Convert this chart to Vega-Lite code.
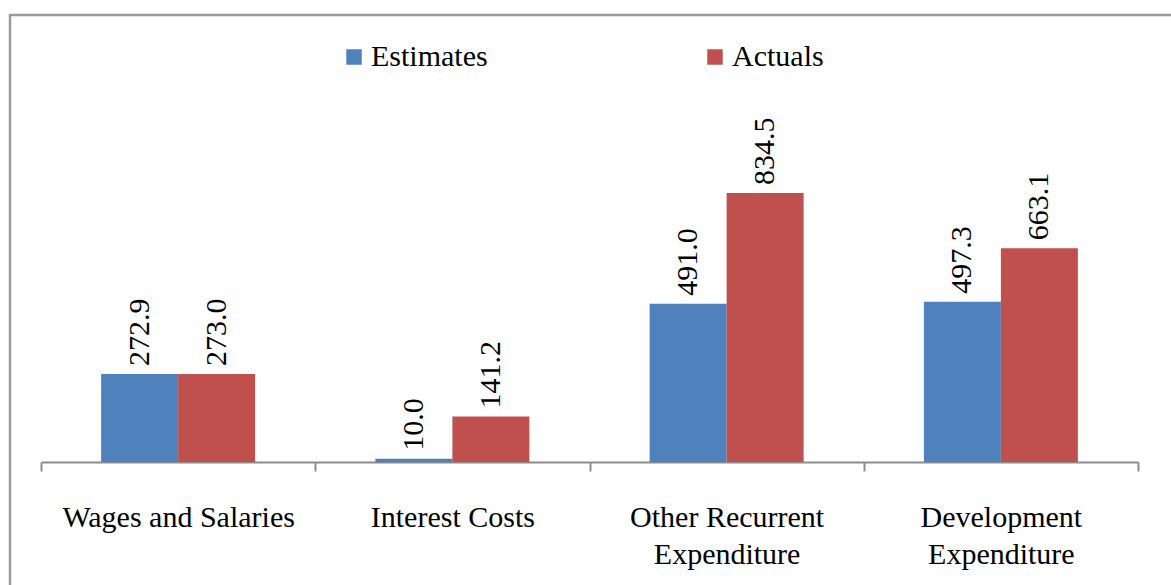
{
  "$schema": "https://vega.github.io/schema/vega-lite/v6.json",
  "autosize": {"type": "none"},
  "padding": {"left": 10, "top": 15, "right": 0, "bottom": 0},
  "width": 1163,
  "height": 572,
  "background": "white",
  "config": {
    "view": {"stroke": "#9a9a9a", "strokeWidth": 2.5},
    "font": "'Liberation Serif', 'Times New Roman', serif",
    "text": {"font": "'Liberation Serif', 'Times New Roman', serif"},
    "axis": {"labelFont": "'Liberation Serif', 'Times New Roman', serif"},
    "legend": {"labelFont": "'Liberation Serif', 'Times New Roman', serif"}
  },
  "data": {
    "values": [
      {"category": "Wages and Salaries", "series": "Estimates", "value": 272.9},
      {"category": "Wages and Salaries", "series": "Actuals", "value": 273.0},
      {"category": "Interest Costs", "series": "Estimates", "value": 10.0},
      {"category": "Interest Costs", "series": "Actuals", "value": 141.2},
      {"category": "Other Recurrent Expenditure", "series": "Estimates", "value": 491.0},
      {"category": "Other Recurrent Expenditure", "series": "Actuals", "value": 834.5},
      {"category": "Development Expenditure", "series": "Estimates", "value": 497.3},
      {"category": "Development Expenditure", "series": "Actuals", "value": 663.1}
    ]
  },
  "encoding": {
    "x": {
      "field": "category",
      "type": "nominal",
      "sort": ["Wages and Salaries", "Interest Costs", "Other Recurrent Expenditure", "Development Expenditure"],
      "scale": {"range": [31, 1128], "paddingInner": 0, "paddingOuter": 0},
      "axis": {
        "title": null,
        "orient": "bottom",
        "offset": -125,
        "domainColor": "#8c8c8c",
        "domainWidth": 2,
        "tickColor": "#8c8c8c",
        "tickWidth": 2,
        "tickSize": 9,
        "tickBand": "extent",
        "labelAngle": 0,
        "labelFontSize": 30,
        "labelColor": "#000000",
        "labelBaseline": "top",
        "labelPadding": 31,
        "labelLineHeight": 37,
        "labelLimit": 0,
        "grid": false,
        "labelExpr": "datum.label == 'Other Recurrent Expenditure' ? ['Other Recurrent', 'Expenditure'] : datum.label == 'Development Expenditure' ? ['Development', 'Expenditure'] : datum.label"
      }
    },
    "xOffset": {
      "field": "series",
      "type": "nominal",
      "sort": ["Estimates", "Actuals"],
      "scale": {"paddingInner": 0, "paddingOuter": 0.781}
    },
    "y": {
      "field": "value",
      "type": "quantitative",
      "scale": {"domain": [0, 1000], "range": [447, 124.6], "nice": false, "zero": true},
      "axis": null
    }
  },
  "layer": [
    {
      "mark": {"type": "bar"},
      "encoding": {
        "color": {
          "field": "series",
          "type": "nominal",
          "sort": ["Estimates", "Actuals"],
          "scale": {"domain": ["Estimates", "Actuals"], "range": ["#4F81BD", "#C0504D"]},
          "legend": {
            "title": null,
            "orient": "none",
            "direction": "horizontal",
            "legendX": 329,
            "legendY": 27,
            "padding": 0,
            "symbolType": "square",
            "symbolSize": 240,
            "symbolStrokeWidth": 0,
            "symbolOpacity": 1,
            "labelFontSize": 30,
            "labelColor": "#000000",
            "labelOffset": 2,
            "labelLimit": 0,
            "columnPadding": 212
          }
        }
      }
    },
    {
      "mark": {
        "type": "text",
        "angle": 270,
        "align": "left",
        "baseline": "middle",
        "dx": 8,
        "fontSize": 30,
        "color": "#000000"
      },
      "encoding": {
        "text": {"field": "value", "type": "quantitative", "format": ".1f"}
      }
    }
  ]
}
